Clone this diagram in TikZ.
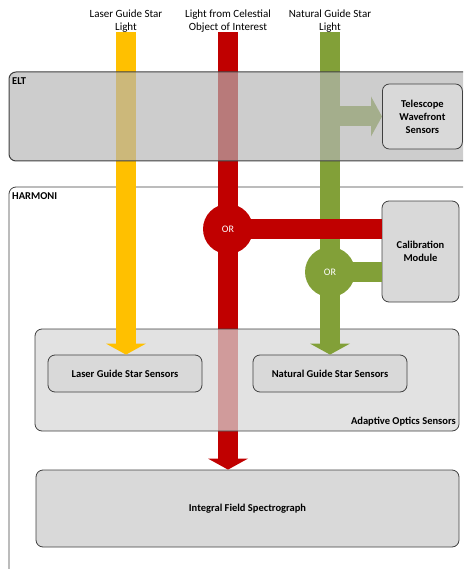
\documentclass[tikz,border=0pt]{standalone}
\usepackage{fontspec}
\setmainfont{Carlito}
\usetikzlibrary{arrows.meta}
\definecolor{lgsyellow}{RGB}{255,192,0}
\definecolor{sciencered}{RGB}{192,0,0}
\definecolor{ngsgreen}{RGB}{130,160,56}
\definecolor{boxgray}{RGB}{217,217,217}
\definecolor{aosgray}{RGB}{215,215,215}
\definecolor{eltgray}{RGB}{181,181,181}
\definecolor{edgegray}{RGB}{64,64,64}

\begin{document}
\begin{tikzpicture}[x=1pt,y=-1pt,
  box/.style={draw=edgegray,line width=0.8pt,fill=boxgray,rounded corners=7pt,
    font=\bfseries\fontsize{10.5}{13}\selectfont,align=center,inner sep=0pt},
  lightlabel/.style={font=\fontsize{11}{13}\selectfont,align=center,inner sep=0pt,anchor=south},
  grouplabel/.style={font=\bfseries\fontsize{10.5}{12}\selectfont,inner sep=0pt},
  beam/.style={line width=20pt,-{Triangle[width=40pt,length=11pt,line width=0pt]}},
  bar/.style={line width=20pt},
  orcirc/.style={circle,minimum size=50pt,inner sep=0pt,text=white,font=\fontsize{10}{12}\selectfont}]
\useasboundingbox (0,0) rectangle (463,569);
\clip (0,0) rectangle (463,569);

% HARMONI
\draw[edgegray,line width=0.8pt,rounded corners=7pt] (475,187) -- (9,187) -- (9,580);
\node[grouplabel,anchor=north west] (harmoni) at (12,192) {HARMONI};

\node[lightlabel] (lgslight) at (126,32.5) {Laser Guide Star\\Light};
\node[lightlabel] (sciencelight) at (228,32.5) {Light from Celestial\\Object of Interest};
\node[lightlabel] (ngslight) at (330,32.5) {Natural Guide Star\\Light};

\node[box,minimum width=423pt,minimum height=77pt] (ifs) at (247.5,508.5) {Integral Field Spectrograph};
\draw[beam,sciencered] (sciencelight.south) -- (sciencelight.south |- ifs.north);

% adaptive optics
\node[box,fill=aosgray,fill opacity=0.72,minimum width=424pt,minimum height=102pt] (aos) at (247,380) {};
\node[grouplabel,anchor=base east] (aoslabel) at (456,424) {Adaptive Optics Sensors};
\node[box,minimum width=154pt,minimum height=37pt] (lgs) at (125,373.5) {Laser Guide Star Sensors};
\node[box,minimum width=154pt,minimum height=37pt] (ngs) at (330,373.5) {Natural Guide Star Sensors};
\draw[beam,lgsyellow] (lgslight.south) -- (lgslight.south |- lgs.north);
\draw[beam,ngsgreen] (ngslight.south) -- (ngslight.south |- ngs.north);

\node[box,minimum width=77pt,minimum height=101pt] (calib) at (420.5,251.5) {Calibration\\Module};
\coordinate (ngssplit) at (330,272);
\draw[bar,ngsgreen] (ngssplit) -- (ngssplit -| calib.west);
\node[orcirc,fill=ngsgreen] (ngsor) at (ngssplit) {OR};
\coordinate (sciencesplit) at (228,229);
\draw[bar,sciencered] (sciencesplit) -- (sciencesplit -| calib.west);
\node[orcirc,fill=sciencered] (scienceor) at (sciencesplit) {OR};

% ELT
\coordinate (twsin) at (382,116.5);
\draw[beam,ngsgreen] (ngslight.south |- twsin) -- (twsin);
\draw[draw=edgegray,line width=1pt,fill=eltgray,fill opacity=0.68,rounded corners=7pt] (9,72) rectangle (475,161);
\node[grouplabel,anchor=north west] (elt) at (12,77) {ELT};
\node[box,anchor=west,minimum width=80pt,minimum height=65pt] (tws) at (twsin) {Telescope\\Wavefront\\Sensors};
\end{tikzpicture}
\end{document}
